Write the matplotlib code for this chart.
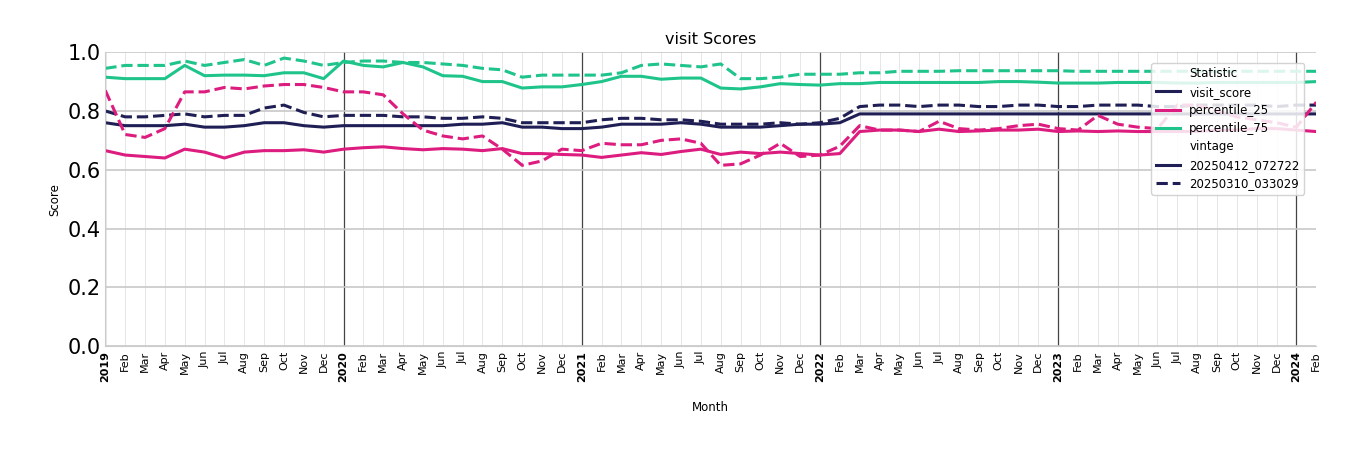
import matplotlib
matplotlib.use("Agg")
import matplotlib.pyplot as plt
from matplotlib.lines import Line2D

months = ["Jan","Feb","Mar","Apr","May","Jun","Jul","Aug","Sep","Oct","Nov","Dec"]
month_labels = [(str(2019 + i // 12) if i % 12 == 0 else months[i % 12]) for i in range(62)]

visit_new = [0.76,0.75,0.75,0.75,0.755,0.745,0.745,0.75,0.76,0.76,0.75,0.745,
             0.75,0.75,0.75,0.75,0.75,0.75,0.755,0.755,0.76,0.745,0.745,0.74,
             0.74,0.745,0.755,0.755,0.755,0.76,0.755,0.745,0.745,0.745,0.75,0.755,
             0.755,0.76,0.79,0.79,0.79,0.79,0.79,0.79,0.79,0.79,0.79,0.79,
             0.79,0.79,0.79,0.79,0.79,0.79,0.79,0.79,0.79,0.79,0.79,0.79,
             0.79,0.79]
visit_old = [0.80,0.78,0.78,0.785,0.79,0.78,0.785,0.785,0.81,0.82,0.795,0.78,
             0.785,0.785,0.785,0.78,0.78,0.775,0.775,0.78,0.775,0.76,0.76,0.76,
             0.76,0.77,0.775,0.775,0.77,0.77,0.765,0.755,0.755,0.755,0.76,0.755,
             0.76,0.775,0.815,0.82,0.82,0.815,0.82,0.82,0.815,0.815,0.82,0.82,
             0.815,0.815,0.82,0.82,0.82,0.815,0.815,0.82,0.82,0.82,0.82,0.815,
             0.82,0.82]
p25_new = [0.665,0.65,0.645,0.64,0.67,0.66,0.64,0.66,0.665,0.665,0.668,0.66,
           0.67,0.675,0.678,0.672,0.668,0.672,0.67,0.665,0.672,0.655,0.655,0.652,
           0.65,0.642,0.65,0.658,0.652,0.662,0.67,0.652,0.66,0.655,0.66,0.655,
           0.65,0.655,0.73,0.735,0.735,0.73,0.738,0.73,0.732,0.735,0.735,0.738,
           0.73,0.732,0.73,0.732,0.73,0.73,0.73,0.73,0.735,0.735,0.74,0.74,
           0.735,0.73]
p25_old = [0.87,0.72,0.71,0.74,0.865,0.865,0.88,0.875,0.885,0.89,0.89,0.88,
           0.865,0.865,0.855,0.79,0.735,0.715,0.705,0.715,0.67,0.615,0.63,0.67,
           0.665,0.69,0.685,0.685,0.70,0.705,0.69,0.615,0.62,0.65,0.69,0.645,
           0.65,0.68,0.75,0.735,0.735,0.73,0.765,0.74,0.735,0.74,0.75,0.755,
           0.74,0.735,0.785,0.755,0.745,0.74,0.82,0.82,0.80,0.78,0.77,0.76,
           0.745,0.83]
p75_new = [0.915,0.91,0.91,0.91,0.955,0.92,0.922,0.922,0.92,0.93,0.93,0.91,
           0.97,0.955,0.95,0.965,0.95,0.92,0.918,0.90,0.90,0.878,0.882,0.882,
           0.89,0.90,0.918,0.918,0.908,0.912,0.912,0.878,0.875,0.882,0.893,0.89,
           0.888,0.893,0.893,0.897,0.897,0.897,0.897,0.897,0.897,0.90,0.90,0.898,
           0.895,0.895,0.895,0.897,0.897,0.897,0.895,0.895,0.897,0.897,0.897,0.897,
           0.897,0.90]
p75_old = [0.945,0.955,0.955,0.955,0.97,0.955,0.965,0.975,0.955,0.98,0.97,0.955,
           0.965,0.97,0.97,0.965,0.965,0.96,0.955,0.945,0.94,0.915,0.922,0.922,
           0.922,0.922,0.93,0.955,0.96,0.955,0.95,0.96,0.91,0.91,0.915,0.925,
           0.925,0.925,0.93,0.93,0.935,0.935,0.935,0.937,0.937,0.937,0.937,0.937,
           0.937,0.935,0.935,0.935,0.935,0.935,0.935,0.935,0.935,0.935,0.935,0.935,
           0.935,0.935]

C_V, C_25, C_75 = "#1f1f55", "#dd1c7f", "#1fc48a"
fig = plt.figure(figsize=(13.5, 4.5), dpi=100)
ax = fig.add_axes([0.078, 0.231, 0.897, 0.653])
x = list(range(62))
for ys, c, ls in [(visit_new, C_V, "-"), (p25_new, C_25, "-"), (p75_new, C_75, "-"),
                  (visit_old, C_V, "--"), (p25_old, C_25, "--"), (p75_old, C_75, "--")]:
    ax.plot(x, ys, color=c, ls=ls, lw=2.2)

ax.set_xlim(0, 61)
ax.set_ylim(0, 1)
ax.set_xticks(x)
ax.set_xticklabels(month_labels, rotation=90, fontsize=8)
for i, t in enumerate(ax.get_xticklabels()):
    if i % 12 == 0:
        t.set_fontweight("bold")
for i in x:
    if i % 12 == 0:
        ax.axvline(i, color="#444444", lw=0.9, zorder=0)
    else:
        ax.axvline(i, color="#e6e6e6", lw=0.7, zorder=0)
ax.set_yticks([0, 0.2, 0.4, 0.6, 0.8, 1.0])
ax.set_yticklabels(["0.0", "0.2", "0.4", "0.6", "0.8", "1.0"], fontsize=15)
ax.yaxis.grid(True, color="#c8c8c8", lw=1.2)
ax.set_axisbelow(True)
ax.tick_params(length=0)
for s in ["top", "right"]:
    ax.spines[s].set_visible(False)
ax.spines["left"].set_color("#cccccc")
ax.spines["bottom"].set_color("#cccccc")
ax.set_xlabel("Month", fontsize=8.5, labelpad=14)
ax.set_ylabel("Score", fontsize=8.5)
ax.set_title("visit Scores", fontsize=11.5)

blank = Line2D([], [], color="none")
handles = [blank, Line2D([], [], color=C_V, lw=2.2), Line2D([], [], color=C_25, lw=2.2),
           Line2D([], [], color=C_75, lw=2.2), blank,
           Line2D([], [], color=C_V, lw=2.2), Line2D([], [], color=C_V, lw=2.2, ls="--")]
labels = ["Statistic", "visit_score", "percentile_25", "percentile_75", "vintage",
          "20250412_072722", "20250310_033029"]
ax.legend(handles, labels, loc="upper right", bbox_to_anchor=(0.995, 0.985), fontsize=8.5,
          framealpha=0.85, handlelength=2, labelspacing=0.45)
fig.savefig("out.png")
